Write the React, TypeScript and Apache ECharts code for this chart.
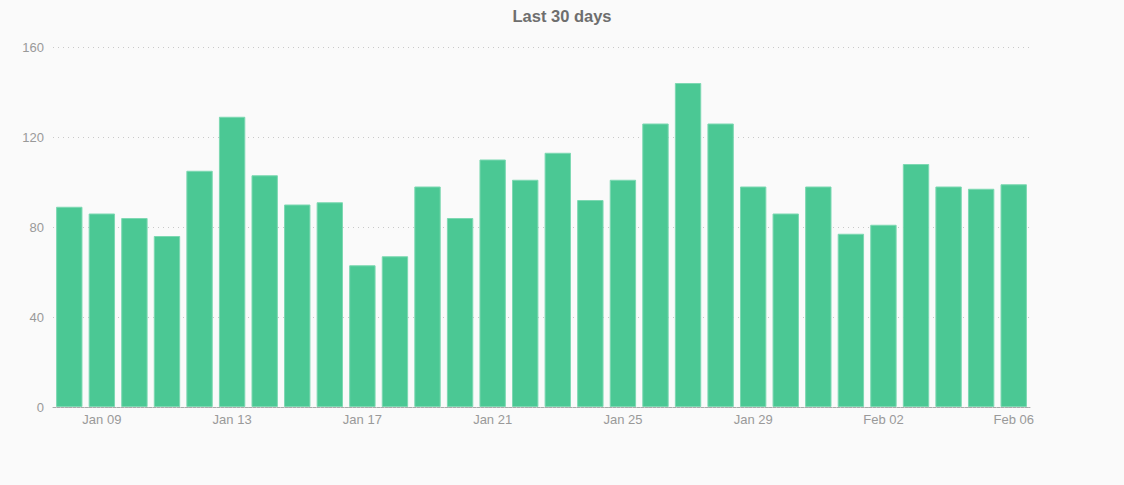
import React, { useEffect, useRef } from "react";
import * as echarts from "echarts";

const categories = [
  "Jan 08", "Jan 09", "Jan 10", "Jan 11", "Jan 12", "Jan 13", "Jan 14", "Jan 15",
  "Jan 16", "Jan 17", "Jan 18", "Jan 19", "Jan 20", "Jan 21", "Jan 22", "Jan 23",
  "Jan 24", "Jan 25", "Jan 26", "Jan 27", "Jan 28", "Jan 29", "Jan 30", "Jan 31",
  "Feb 01", "Feb 02", "Feb 03", "Feb 04", "Feb 05", "Feb 06",
];
const values = [
  89, 86, 84, 76, 105, 129, 103, 90, 91, 63, 67, 98, 84, 110, 101, 113, 92, 101,
  126, 144, 126, 98, 86, 98, 77, 81, 108, 98, 97, 99,
];
const yTicks = { min: 0, max: 160, interval: 40 };
const title = "Last 30 days";

export default function App() {
  const ref = useRef<HTMLDivElement>(null);
  useEffect(() => {
    if (!ref.current) return;
    const chart = echarts.init(ref.current, null, { renderer: "svg" });
    chart.setOption({
      animation: false,
      backgroundColor: "#fafafa",
      title: {
        text: title,
        left: "center",
        top: 2,
        textStyle: { fontFamily: "Liberation Sans", fontSize: 16.5, fontWeight: "bold", color: "#6e6e6e" },
      },
      grid: { left: 53, right: 94, top: 47, bottom: 78, containLabel: false },
      xAxis: {
        type: "category",
        data: categories,
        axisLine: { show: true, lineStyle: { color: "#aaa", type: [3, 1], width: 1 } },
        axisTick: { show: false },
        axisLabel: {
          interval: (i: number) => i % 4 === 1,
          color: "#999",
          fontFamily: "Liberation Sans",
          fontSize: 13,
          margin: 6,
        },
      },
      yAxis: {
        type: "value",
        min: yTicks.min,
        max: yTicks.max,
        interval: yTicks.interval,
        axisLine: { show: false },
        axisTick: { show: false },
        axisLabel: { color: "#999", fontFamily: "Liberation Sans", fontSize: 13, margin: 9 },
        splitLine: { lineStyle: { color: "#c8c8c8", type: [1, 4], width: 1 } },
      },
      series: [
        {
          type: "bar",
          data: values,
          barCategoryGap: "19%",
          itemStyle: { color: "#4bc894", borderColor: "#7dd8b2", borderWidth: 1 },
        },
      ],
    });
    return () => chart.dispose();
  }, []);
  return (
    <div
      ref={ref}
      style={{ position: "absolute", left: 0, top: 0, width: 1124, height: 485 }}
    />
  );
}
